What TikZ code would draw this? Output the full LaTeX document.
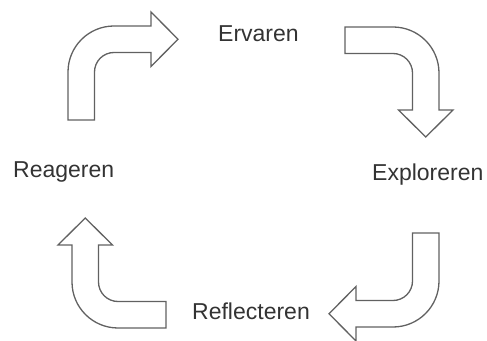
\documentclass[tikz,border=0pt]{standalone}
\usepackage{fontspec}
\setmainfont{Liberation Sans}
\usetikzlibrary{positioning}

\begin{document}
\begin{tikzpicture}[x=1pt,y=1pt,
        label/.style={anchor=base west, inner sep=0pt, font=\fontsize{23}{27}\selectfont, text=black!80},
        bent/.pic={
            \draw[draw=black!62, line width=1.3pt, fill=white, line join=miter]
                (0,-94) -- (0,-46) arc[start angle=180, end angle=90, radius=46]
                -- (83,0) -- (83,14) -- (110,-13.25) -- (83,-40.5) -- (83,-26.5)
                -- (46,-26.5) arc[start angle=90, end angle=180, radius=19.5]
                -- (26.5,-94) -- cycle;
        }]
        \useasboundingbox (0,0) rectangle (487,340);

        % the four bent block arrows, one per corner
        \pic at (68,314) {bent};
        \pic[rotate=-90] at (439,313) {bent};
        \pic[rotate=180] at (439,13) {bent};
        \pic[rotate=90] at (72,12) {bent};

        % the four steps
        \node at (218,298) [label] (ervaren) {Ervaren};
        \node at (372,159) [label] (exploreren) {Exploreren};
        \node at (192,21) [label] (reflecteren) {Reflecteren};
        \node at (13,162) [label] (reageren) {Reageren};
    \end{tikzpicture}
\end{document}
